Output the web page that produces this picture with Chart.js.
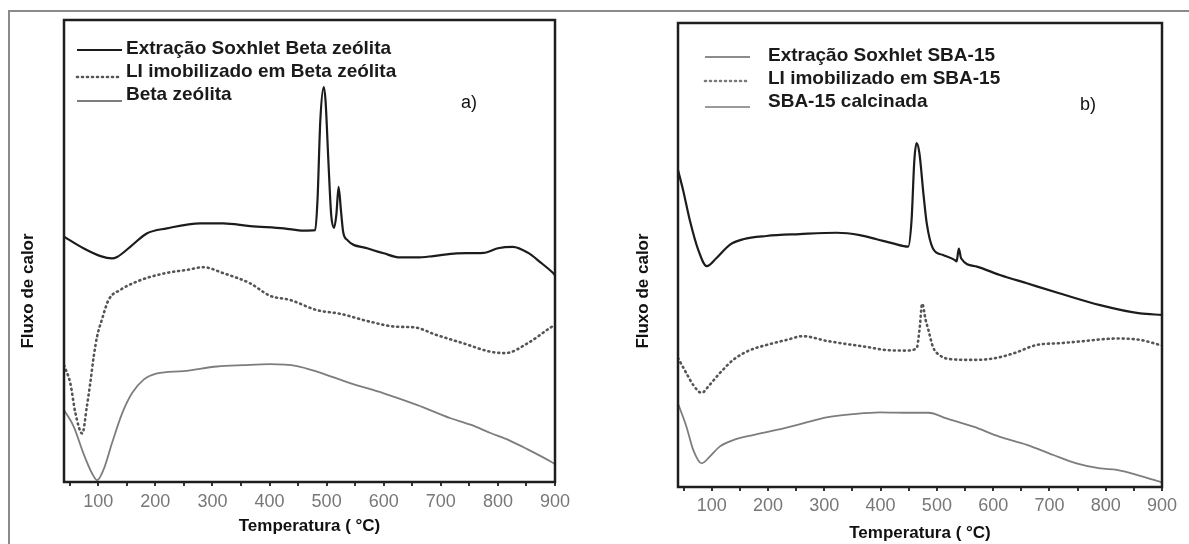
<!DOCTYPE html>
<html>
<head>
<meta charset="utf-8">
<script src="https://cdn.jsdelivr.net/npm/chart.js@4.4.1/dist/chart.umd.min.js"></script>
<style>
  body { margin: 0; width: 1189px; height: 544px; overflow: hidden; background: #fff; position: relative; }
  #frame { position: absolute; left: 8px; top: 10px; width: 1300px; height: 700px; border-top: 2px solid #8a8a8a; border-left: 2px solid #8a8a8a; }
  canvas { position: absolute; top: 0; }
  #chartA { left: 0; }
  #chartB { left: 600px; }
</style>
</head>
<body>
<div id="frame"></div>
<canvas id="chartA" width="600" height="544"></canvas>
<canvas id="chartB" width="589" height="544"></canvas>
<script>
// x ticks (every 50, labels only on hundreds)
const tickValues = [50, 100, 150, 200, 250, 300, 350, 400, 450, 500, 550, 600, 650, 700, 750, 800, 850, 900];

// panel a) - Beta zeolita
const aLabels = ['Extração Soxhlet Beta zeólita', 'LI imobilizado em Beta zeólita', 'Beta zeólita'];
const aSoxT = [40,74,104,124,133,156,185,220,279,319,366,425,460,480,484,489,495,498,503,508,513,517,521,525,529,536,571,600,629,658,687,728,775,800,826,853,874,897,900];
const aSoxV = [53.1,50.6,48.9,48.4,48.7,50.9,53.8,54.9,56.0,56.0,55.4,54.9,54.4,54.5,61,78.4,85.5,82.7,69.7,57.8,55,57.8,63.9,58.9,54.1,52.4,50.6,49.5,48.6,48.6,48.9,49.5,49.6,50.6,50.9,49.6,47.6,45.2,44.8];
const aLiT = [40,51,60,72,80,86,92,98,107,118,139,168,191,226,255,284,319,366,401,436,483,524,576,623,652,693,740,787,813,853,893,900];
const aLiV = [25.3,21.4,14.9,10.5,16.3,21.4,27.1,31.5,35.4,39.4,41.6,43.4,44.4,45.4,45.9,46.5,45.2,43.0,40.3,39.4,37.2,36.4,34.7,33.6,33.5,31.8,30.0,28.2,27.9,30.1,33.5,34.0];
const aBetaT = [40,57,74,89,98,109,124,142,159,179,203,249,308,355,401,448,483,541,600,658,717,752,787,820,853,893,900];
const aBetaV = [15.6,12.0,6.2,1.9,0.4,2.6,8.4,14.9,19.2,22.1,23.5,24.0,25.0,25.3,25.5,25.1,23.9,21.4,19.2,16.7,13.8,12.4,10.6,9.0,7.0,4.4,3.9];

// panel b) - SBA-15
const bLabels = ['Extração Soxhlet SBA-15', 'LI imobilizado em SBA-15', 'SBA-15 calcinada'];
const bSoxT = [40,49,61,76,91,108,132,156,197,256,322,363,393,422,449,455,460,464,469,476,482,493,511,532,535,539,543,571,612,660,719,790,861,900];
const bSoxV = [68.3,64.0,57.5,51.1,47.6,49.3,52.2,53.4,54.1,54.5,54.8,54.3,53.4,52.5,51.8,57.5,70.5,74.1,71.9,63.3,56.8,51.4,50.0,48.9,48.6,51.4,49.3,47.5,45.7,43.9,41.7,39.2,37.4,37.1];
const bLiT = [40,55,67,82,96,114,138,168,197,233,262,304,340,375,411,446,464,469,474,480,485,493,505,529,565,600,636,677,719,766,790,820,861,900];
const bLiV = [27.8,24.5,22.0,20.3,22.0,24.5,27.4,29.5,30.6,31.7,32.5,31.5,30.8,30.2,29.5,29.4,29.9,33.8,39.5,36.0,33.8,30.2,28.4,27.5,27.4,27.7,28.8,30.6,31.0,31.5,31.8,32.0,31.7,30.5];
const bCalT = [40,55,67,82,96,114,138,173,215,262,304,351,399,452,485,517,565,612,660,707,748,790,820,861,900];
const bCalV = [18.0,13.0,8.0,5.1,6.5,8.7,10.1,11.2,12.3,13.7,15.0,15.7,16.1,16.0,16.0,14.8,13.0,10.8,9.1,6.9,5.1,4.0,3.7,2.4,1.0];

const pts = (t, v) => t.map((x, i) => ({ x: x, y: v[i] }));

// frame, y title, legend inside the plot and panel letter
const decor = {
  id: 'decor',
  afterDraw(chart, args, o) {
    const ctx = chart.ctx, a = chart.chartArea;
    ctx.save();
    ctx.strokeStyle = '#1e1e1e';
    ctx.lineWidth = 2.5;
    ctx.strokeRect(a.left, a.top, a.right - a.left, a.bottom - a.top);

    ctx.save();
    ctx.translate(o.yTitleX, o.yTitleY);
    ctx.rotate(-Math.PI / 2);
    ctx.font = 'bold 17px "Liberation Sans", Arial, sans-serif';
    ctx.fillStyle = '#111';
    ctx.textAlign = 'center';
    ctx.textBaseline = 'middle';
    ctx.fillText(o.yTitle, 0, 0);
    ctx.restore();

    chart.data.datasets.forEach((ds, i) => {
      const y = o.legendBaseline + i * o.legendGap;
      ctx.save();
      ctx.strokeStyle = (o.legendColors && o.legendColors[i]) || ds.borderColor;
      ctx.lineWidth = ds.borderWidth;
      ctx.lineCap = ds.borderCapStyle || 'butt';
      ctx.setLineDash(ds.borderDash || []);
      ctx.beginPath();
      ctx.moveTo(o.lineX0, y + o.lineDy[i]);
      ctx.lineTo(o.lineX1, y + o.lineDy[i]);
      ctx.stroke();
      ctx.restore();
      ctx.font = 'bold 19px "Liberation Sans", Arial, sans-serif';
      ctx.fillStyle = '#1a1a1a';
      ctx.textAlign = 'left';
      ctx.textBaseline = 'alphabetic';
      ctx.fillText(ds.label, o.textX, y);
    });

    ctx.font = '18px "Liberation Sans", Arial, sans-serif';
    ctx.fillStyle = '#111';
    ctx.textAlign = 'center';
    ctx.textBaseline = 'middle';
    ctx.fillText(o.letter, o.letterX, o.letterY);
    ctx.restore();
  }
};

function makeChart(id, labels, series, pad, axisH, tickPad, titlePad, decorOpts) {
  const styles = [
    { borderColor: '#1c1c1c', borderWidth: 2.2, borderDash: [], borderCapStyle: 'butt' },
    { borderColor: '#555', borderWidth: 2.6, borderDash: [1, 4], borderCapStyle: 'round' },
    { borderColor: '#7d7d7d', borderWidth: 1.8, borderDash: [], borderCapStyle: 'butt' }
  ];
  const datasets = series.map((s, i) => Object.assign({
    label: labels[i],
    data: s,
    pointRadius: 0,
    fill: false,
    cubicInterpolationMode: 'monotone'
  }, styles[i]));

  return new Chart(document.getElementById(id), {
    type: 'line',
    data: { datasets: datasets },
    options: {
      responsive: false,
      animation: false,
      devicePixelRatio: 1,
      layout: { padding: pad },
      plugins: { legend: { display: false }, tooltip: { enabled: false }, decor: decorOpts },
      scales: {
        x: {
          type: 'linear',
          min: 40,
          max: 900,
          afterBuildTicks: (scale) => { scale.ticks = tickValues.map(v => ({ value: v })); },
          afterFit: (scale) => { scale.height = axisH; },
          border: { display: false },
          grid: { display: true, drawOnChartArea: false, drawTicks: true, tickLength: 4, color: '#333', lineWidth: 2 },
          ticks: {
            autoSkip: false,
            maxRotation: 0,
            padding: tickPad,
            color: '#777',
            font: { family: '"Liberation Sans", Arial, sans-serif', size: 18 },
            callback: (v) => (v % 100 === 0 ? String(v) : '')
          },
          title: {
            display: true,
            text: 'Temperatura ( °C)',
            color: '#111',
            padding: { top: 0, bottom: titlePad },
            font: { family: '"Liberation Sans", Arial, sans-serif', size: 17, weight: 'bold' }
          }
        },
        y: { display: false, min: 0, max: 100 }
      }
    },
    plugins: [decor]
  });
}

makeChart('chartA', aLabels, [pts(aSoxT, aSoxV), pts(aLiT, aLiV), pts(aBetaT, aBetaV)],
  { left: 64, right: 45, top: 20, bottom: 0 }, 62, 5, 7,
  { yTitle: 'Fluxo de calor', yTitleX: 28, yTitleY: 291,
    lineX0: 77, lineX1: 122, textX: 126, legendBaseline: 54, legendGap: 23, lineDy: [-4, 0, 1],
    letter: 'a)', letterX: 469, letterY: 103 });

makeChart('chartB', bLabels, [pts(bSoxT, bSoxV), pts(bLiT, bLiV), pts(bCalT, bCalV)],
  { left: 78, right: 27, top: 23, bottom: 0 }, 57, 4, 0,
  { yTitle: 'Fluxo de calor', yTitleX: 43, yTitleY: 291,
    lineX0: 105, lineX1: 150, textX: 168, legendBaseline: 61, legendGap: 23, lineDy: [-4, -3, 0],
    legendColors: ['#8c8c8c', '#7a7a7a', '#9a9a9a'],
    letter: 'b)', letterX: 488, letterY: 105 });
</script>
</body>
</html>
